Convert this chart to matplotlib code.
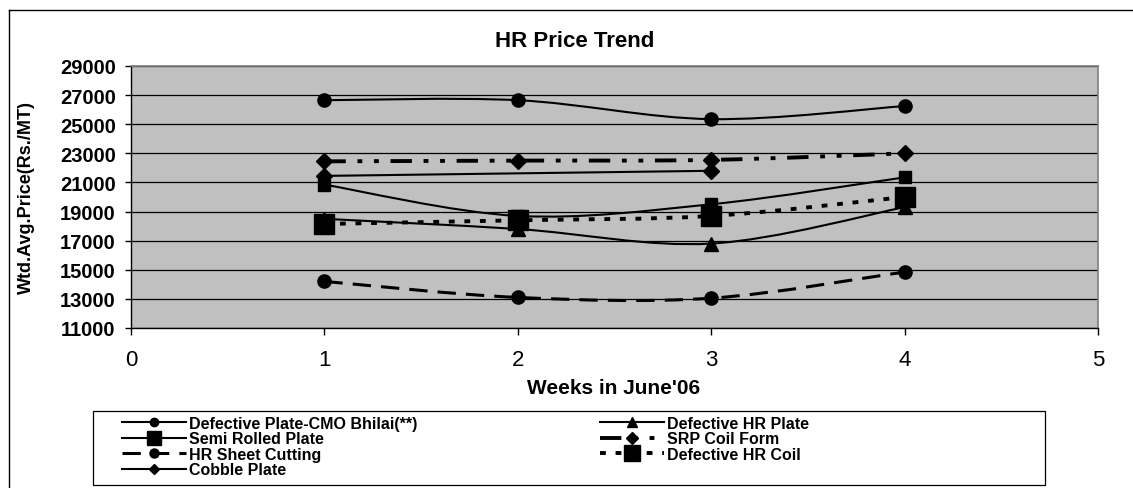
import matplotlib
matplotlib.use("Agg")
import matplotlib.pyplot as plt
from matplotlib.path import Path
from matplotlib.patches import PathPatch, Rectangle
from matplotlib.lines import Line2D

plt.rcParams['font.family'] = ['Liberation Sans', 'DejaVu Sans']

# data
weeks = [1, 2, 3, 4]
cmo_bhilai = [26650, 26650, 25350, 26250]
def_hr_plate = [18500, 17800, 16800, 19300]
semi_rolled = [20850, 18700, 19500, 21350]
srp_coil = [22450, 22500, 22550, 23000]
hr_sheet = [14200, 13100, 13050, 14850]
def_hr_coil = [18150, 18400, 18700, 20000]
cobble_weeks = [1, 3]
cobble = [21450, 21800]

# name, x, y, marker, size, linestyle, linewidth, legend marker size
series = [
    ("Defective Plate-CMO Bhilai(**)", weeks, cmo_bhilai, 'o', 9.5, '-', 1.5, 6),
    ("Defective HR Plate", weeks, def_hr_plate, '^', 10, '-', 1.5, 6.5),
    ("Semi Rolled Plate", weeks, semi_rolled, 's', 9, '-', 1.5, 10),
    ("SRP Coil Form", weeks, srp_coil, 'D', 8, (0, (5.5, 3, 1.25, 3, 1.25, 3)), 2.8, 6.5),
    ("HR Sheet Cutting", weeks, hr_sheet, 'o', 9.5, (0, (6, 3.3)), 2.2, 6.5),
    ("Defective HR Coil", weeks, def_hr_coil, 's', 14, (0, (1.5, 2.5)), 2.8, 11),
    ("Cobble Plate", cobble_weeks, cobble, 'D', 8, '-', 1.5, 5.5),
]


def smooth_path(x, y):
    # Excel-like smoothed line: cubic bezier segments through the points
    pts = list(zip(x, y))
    verts = [pts[0]]
    codes = [Path.MOVETO]
    n = len(pts)
    for i in range(n - 1):
        p0 = pts[i - 1] if i > 0 else pts[i]
        p1 = pts[i]
        p2 = pts[i + 1]
        p3 = pts[i + 2] if i + 2 < n else pts[i + 1]
        c1 = (p1[0] + (p2[0] - p0[0]) / 6, p1[1] + (p2[1] - p0[1]) / 6)
        c2 = (p2[0] - (p3[0] - p1[0]) / 6, p2[1] - (p3[1] - p1[1]) / 6)
        verts += [c1, c2, p2]
        codes += [Path.CURVE4] * 3
    return Path(verts, codes)


W, H = 1133, 489
fig = plt.figure(figsize=(W / 100, H / 100), dpi=100)

# outer chart border (right and bottom edges fall outside the picture)
fig.add_artist(Line2D([9 / W, 9 / W], [0, 1 - 11 / H], color='black', lw=1.0))
fig.add_artist(Line2D([9 / W, 1], [1 - 11 / H, 1 - 11 / H], color='black', lw=1.0))

ax = fig.add_axes([131 / W, 1 - 329 / H, (1098 - 131) / W, (329 - 67) / H])
ax.set_facecolor('#C0C0C0')
ax.set_xlim(0, 5)
ax.set_ylim(11000, 29000)
ax.set_yticks(range(11000, 29001, 2000))
ax.set_xticks(range(0, 6))
ax.yaxis.grid(True, color='black', lw=0.9)
ax.set_axisbelow(True)
for s in ['top', 'right']:
    ax.spines[s].set_color('#808080')
    ax.spines[s].set_linewidth(1.2)
ax.spines['left'].set_linewidth(1.0)
ax.spines['bottom'].set_linewidth(1.0)
ax.tick_params(axis='y', length=4, width=1, labelsize=14.5, pad=7)
ax.tick_params(axis='x', length=5, width=1, labelsize=16, pad=10)
for lab in ax.get_yticklabels():
    lab.set_fontweight('bold')

handles = {}
for name, xs, ys, mk, ms, ls, lw, lms in series:
    ax.add_patch(PathPatch(smooth_path(xs, ys), fill=False, edgecolor='black',
                           lw=lw, linestyle=ls, zorder=3))
    ax.plot(xs, ys, linestyle='none', marker=mk, ms=ms, color='black', zorder=4)
    handles[name] = Line2D([], [], color='black', lw=lw, linestyle=ls,
                           marker=mk, ms=lms)

fig.text(575 / W, 1 - 42 / H, "HR Price Trend", fontsize=16, fontweight='bold',
         ha='center', va='center')
fig.text(614 / W, 1 - 388 / H, "Weeks in June'06", fontsize=15, fontweight='bold',
         ha='center', va='center')
fig.text(26 / W, 1 - 197 / H, "Wtd.Avg.Price(Rs./MT)", fontsize=13, fontweight='bold',
         ha='center', va='center', rotation=90)

# legend box and its two columns
fig.add_artist(Rectangle((93 / W, 1 - 486 / H), (1045 - 93) / W, (486 - 412) / H,
                         transform=fig.transFigure, fill=False, edgecolor='black', lw=0.9))
left_col = ["Defective Plate-CMO Bhilai(**)", "Semi Rolled Plate", "HR Sheet Cutting",
            "Cobble Plate"]
right_col = ["Defective HR Plate", "SRP Coil Form", "Defective HR Coil"]
for names, x0 in [(left_col, 122), (right_col, 600)]:
    fig.legend([handles[k] for k in names], names, frameon=False,
               loc='upper left', bbox_to_anchor=(x0 / W, 1 - 417 / H),
               prop={'size': 11.5, 'weight': 'bold'}, handlelength=4.0,
               handletextpad=0.2, labelspacing=0.03, borderpad=0, borderaxespad=0)

fig.savefig("out.png", dpi=100)
